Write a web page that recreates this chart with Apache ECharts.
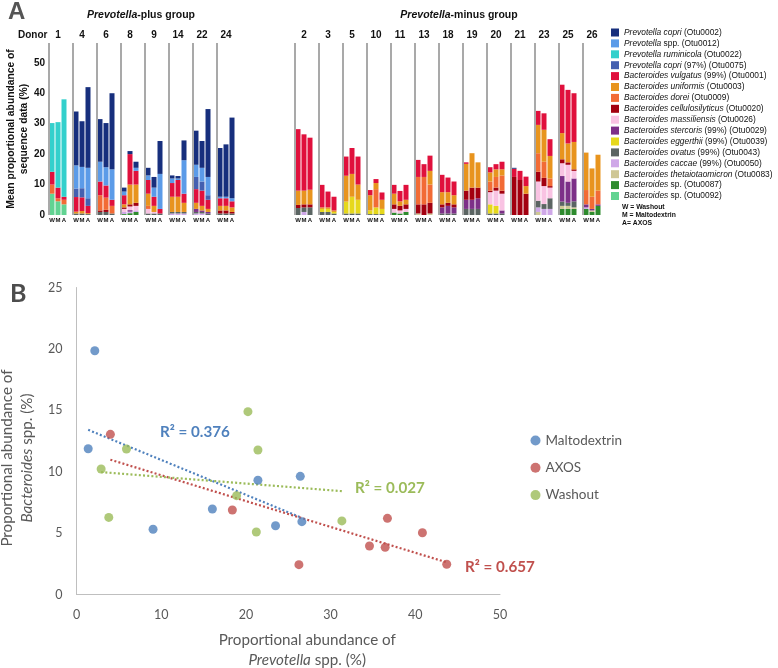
<!DOCTYPE html>
<html><head><meta charset="utf-8">
<script src="https://cdn.jsdelivr.net/npm/echarts@6/dist/echarts.min.js"></script>
<style>html,body{margin:0;padding:0;background:#fff}#c{width:778px;height:668px}</style>
</head><body><div id="c"></div>
<script>
// ---------- Panel A data ----------
const plusDonors  = ['1','4','6','8','9','14','22','24'];
const minusDonors = ['2','3','5','10','11','13','18','19','20','21','23','25','26'];
const conditions  = ['W','M','A'];

// legend order (top of stack first)
const speciesItalic = ['Prevotella copri','Prevotella','Prevotella ruminicola','Prevotella copri','Bacteroides vulgatus','Bacteroides uniformis','Bacteroides dorei','Bacteroides cellulosilyticus','Bacteroides massiliensis','Bacteroides stercoris','Bacteroides eggerthii','Bacteroides ovatus','Bacteroides caccae','Bacteroides thetaiotaomicron','Bacteroides','Bacteroides'];
const speciesRest   = ['(Otu0002)','spp. (Otu0012)','(Otu0022)','(97%) (Otu0075)','(99%) (Otu0001)','(Otu0003)','(Otu0009)','(Otu0020)','(Otu0026)','(99%) (Otu0029)','(99%) (Otu0039)','(99%) (Otu0043)','(99%) (Otu0050)','(Otu0083)','sp. (Otu0087)','sp. (Otu0092)'];

// values per bar: plus group (8 donors x W,M,A) then minus group (13 donors x W,M,A)
const otu0002 = [0,0,0, 17.7,15,26.5, 14,14.5,25, 1.3,1,2, 2.5,3.5,10.8, 1,0.8,6.5, 11.2,8.8,22.3, 16,17.2,26.5,
  0,0,0, 0,0,0, 0,0,0, 0,0,0, 0,0,0, 0,0,0, 0,0,0, 0,0,0, 0,0,0, 0.3,0,0, 0,0,0, 0,0,0, 0,0,0];
const otu0012 = [0,0,0, 7.6,7,10, 6.5,6,10, 1.2,0,1, 1.5,3,11.5, 1.5,0.5,11, 4,4.5,6, 0.5,0.5,1,
  0,0,0, 0,0,0, 0,0,0, 0,0,0, 0,0,0, 0,0,0, 0,0,0, 0,0,0, 0,0,0, 0,0,0, 0,0,0, 0,0,0, 0,0,0];
const otu0022 = [16,21.5,32, 0,0,0, 0,0,0, 0,0,0, 0,0,0, 0,0,0, 0,0,0, 0,0,0,
  0,0,0, 0,0,0, 0,0,0, 0,0,0, 0,0,0, 0,0,0, 0,0,0, 0,0,0, 0,0,0, 0,0,0, 0,0,0, 0,0,0, 0,0,0];
const otu0075 = [0,0,0, 2.8,3,2.5, 0,0,0, 0,0,0, 0,0,0, 0,0,0, 4,3,1.5, 0,0,0,
  0,0,0, 0,0,0, 0,0,0, 0,0,0, 0,0,0, 0,0,0, 0,0,0, 0,0,0, 0,0,0, 0,0,0, 0,0,0, 0,0,0, 0,0,0];
const otu0001 = [4.2,3.5,1, 4.8,4.5,2.4, 4.5,4,2, 3,10,4.5, 4.5,3,1.5, 4.5,5.5,3, 4.5,5,3, 2.5,2.5,2,
  20.2,18.5,17.1, 7.4,5.2,4.5, 6.3,8.5,9.2, 1.7,1.3,2.4, 2.9,3.4,4.9, 5.6,4.2,5, 5.7,4.8,4.5, 0.5,0,0, 1.7,1.7,2.5, 2.7,3,3.1, 4.6,5.4,5.5, 15.9,17.6,16, 0,0,0];
const otu0003 = [0,0,0, 0.6,0.8,0.3, 0,0,0, 1,6.5,6, 4,2,0, 5,5,3, 2,1.5,1, 1.5,1.5,1.5,
  4.7,4.5,4.8, 0.5,0.5,0.5, 8.5,7.5,5, 5,2,3, 3.5,1.5,1.5, 0,0,4.5, 4,3.5,3, 8.8,11.3,8.3, 3,2.5,2, 0,0,2.5, 9.3,10.5,7.4, 8.6,6.2,9, 12.3,9.3,11.8];
const otu0009 = [3,1,1.5, 0,0,0, 5,4,2.5, 0,0,0, 1,0,0, 0,0,0, 0,0,0, 0,0,0,
  0,0,0, 0,0,0, 0,0,0, 0,6,0, 0,0,0, 9,9,6, 0,0,0, 0,0,0, 3,3.5,5, 0,0,0, 6.1,5.3,2.5, 0,0,0, 4.7,4,4.5];
const otu0020 = [0,0,0, 0,0,0, 0.5,0.7,0, 0.5,0.7,1, 0,0,0, 0,0,0, 0,0,0, 1,1,0.5,
  1,1,1, 0,0,0, 0,0,0, 0,0,0, 1.5,1.5,1.5, 3,3.5,3.5, 1,1,1, 3,4,3.5, 0.5,1,1, 12.5,11.5,7, 3.2,2.7,0.5, 1.3,0.8,0.5, 0,0,0];
const otu0026 = [0,0,0, 0,0,0, 0,0,0, 1,1.2,1.5, 1.5,0.5,0, 0,0,0, 0,0,0, 0,0,0,
  0,0,0, 0,0,0, 0,0,0, 0,0,0, 1.2,1,1, 0,0,0, 0,0,0, 0,0,0, 4,5,5.5, 0,0,0, 6.3,5.9,3.5, 4.2,5.5,2.5, 0,0,0];
const otu0029 = [0,0,0, 0,0,0, 0,0,0, 0,0.5,0, 0,0,0, 0,0,0, 1,0.5,0.5, 0,0,0,
  0,0,0, 0,0,0, 0,0,0, 0,0,0, 0,0,0, 0,0,0, 2,2.5,2, 3,3,3.5, 0,0,1, 0,0,0, 0,0,0, 8.4,7,7.5, 1,0.5,0.5];
const otu0039 = [0,0,0, 0,0,0, 0,0,0, 0,0,0, 0,0,0, 0,0,0, 0,0,0, 0,0,0,
  0,0,0, 1,1,0.5, 3.9,5.5,4.5, 1.2,2.2,1.7, 0,0,0, 0,0,0, 0,0,0, 0,0,0, 3,2.5,0, 0,0,0, 0,0,0, 0,0,0, 0,0,0];
const otu0043 = [0,0,0, 0.5,0.5,0.3, 1,1,0.5, 0,0,0, 0.5,0.5,0.5, 0.5,0.5,0.5, 0.5,0.5,0.5, 0.5,0.5,0.5,
  2.3,1.5,2.5, 1,1,0.5, 0.5,0.5,0.5, 0.3,0.3,0.3, 0,0,0, 0,0,0, 0.5,0.5,0.5, 2,2,2, 0.5,0.5,0.5, 0,0,0, 2.2,1.6,3.5, 1.4,1,2, 0,0,0];
const otu0050 = [0,0,0, 0,0,0, 0,0,0, 0.7,0.5,0.5, 0,0,0, 0.5,0.5,0.5, 0.5,0.5,0, 0,0,0,
  0,1,0, 0,0,0, 0,0,0, 0,0,0, 0,0,0, 0,0,0, 0,0,0, 0,0,0, 0,0,0, 0,0,0, 1.5,2,2, 0,0,0, 0.5,0,0];
const otu0083 = [0,0,0, 0,0,0, 0,0,0, 0,0,0, 0,0,0, 0,0,0, 0,0,0, 0,0,0,
  0,0,0, 0,0,0, 0,0,0, 0,0,0, 0,0,0, 0.5,0,0.5, 0,0,0, 0,0,0, 0,0,0, 0,0,0, 1,0,0, 1,1,0.5, 0,0.5,0];
const otu0087 = [0,0,0, 0,0,0, 0,0,0, 0.3,0.6,1, 0,0,0, 0,0,0, 0,0,0, 0,0,0,
  0,0,0, 0,0,0, 0,0,0, 0,0,0, 0.8,0.5,1, 0,0,0, 0,0,0, 0,0,0, 0,0,0, 0,0,0, 0,0,0, 2,2,2, 2,1,3];
const otu0092 = [7,4.5,3.5, 0,0,0, 0,0,0, 0,0,0, 0,0,0, 0,0,0, 0,0,0, 0,0,0,
  0,0,0, 0,0,0, 0,0,0, 0,0,0, 0,0,0, 0,0,0, 0,0,0, 0,0,0, 0,0,0, 0,0,0, 0,0,0, 0,0,0, 0,0,0];

// ---------- Panel B data ----------
const maltoX = [2.16,1.38,9.04,16.04,21.42,23.5,26.42,26.61];
const maltoY = [19.85,11.87,5.31,6.96,9.30,5.6,9.62,5.93];
const axosX  = [4.0,18.4,26.26,34.59,36.44,36.71,40.84,43.71];
const axosY  = [13.04,6.88,2.43,3.95,3.84,6.2,5.03,2.46];
const washX  = [20.24,21.42,5.9,2.91,3.81,18.9,21.23,31.33];
const washY  = [14.89,11.77,11.85,10.22,6.28,8.05,5.09,5.99];
const groupNames = ['Maltodextrin','AXOS','Washout'];
const r2Labels = ['R² = 0.376','R² = 0.657','R² = 0.027'];

// ---------- styles ----------
const speciesColors = ['#172f7d','#5b9be8','#33d0cc','#4460b0','#e0103c','#e8941e','#f26b35','#a30010','#f9c3e3','#7d3088','#e6d81c','#5b6563','#cfa8e8','#cfc795','#2e8b2e','#62d392'];
const groupColors = ['#4f81bd','#c0504d','#9bbb59'];
const AF = '"Liberation Sans", Arial, sans-serif';
const BF = 'Lato, "Open Sans", sans-serif';

const speciesData = [otu0002,otu0012,otu0022,otu0075,otu0001,otu0003,otu0009,otu0020,otu0026,otu0029,otu0039,otu0043,otu0050,otu0083,otu0087,otu0092];
const speciesNames = speciesItalic.map((s,i)=> s + ' ' + speciesRest[i]);
// each donor occupies 8 narrow category slots: separator, W, -, M, -, A, -, -
const SLOT_KIND = ['sep','W','','M','','A','',''];
const BAR_SLOT = {1:0, 3:1, 5:2};

function cats(donors){ return donors.flatMap(d => SLOT_KIND.map((k,i)=> d+'|'+k+'|'+i)); }
function expand(vals, start, n){
  const out=[];
  for(let d=0; d<n; d++) for(let i=0;i<SLOT_KIND.length;i++){
    out.push(i in BAR_SLOT ? vals[start+d*3+BAR_SLOT[i]] : '-');
  }
  return out;
}
function fit(xs, ys){
  const n=xs.length, mx=xs.reduce((a,b)=>a+b,0)/n, my=ys.reduce((a,b)=>a+b,0)/n;
  let sxy=0,sxx=0; for(let i=0;i<n;i++){sxy+=(xs[i]-mx)*(ys[i]-my); sxx+=(xs[i]-mx)**2;}
  const b=sxy/sxx, a=my-b*mx, x0=Math.min(...xs), x1=Math.max(...xs);
  return [[x0,a+b*x0],[x1,a+b*x1]];
}

const groups = [{donors:plusDonors,start:0},{donors:minusDonors,start:plusDonors.length*3}];
const series=[];
groups.forEach((g,gi)=>{
  for(let s=speciesNames.length-1;s>=0;s--){
    const ser={type:'bar',name:speciesNames[s],xAxisIndex:gi*2,yAxisIndex:gi,stack:'g'+gi,barWidth:5,
      itemStyle:{color:speciesColors[s]},emphasis:{disabled:true},
      data:expand(speciesData[s],g.start,g.donors.length)};
    if(s===speciesNames.length-1){
      ser.markLine={silent:true,symbol:'none',animation:false,label:{show:false},
        lineStyle:{color:'#a9a9a9',width:2,type:'solid'},emphasis:{disabled:true},
        data:g.donors.map(d=>({xAxis:d+'|sep|0'}))};
    }
    series.push(ser);
  }
});
const scat=[[maltoX,maltoY],[axosX,axosY],[washX,washY]];
scat.forEach((p,i)=>{
  series.push({type:'scatter',name:groupNames[i],xAxisIndex:4,yAxisIndex:2,symbolSize:9,
    itemStyle:{color:groupColors[i]},data:p[0].map((x,j)=>[x,p[1][j]]),z:3});
});
scat.forEach((p,i)=>{
  series.push({type:'line',name:groupNames[i]+' trend',xAxisIndex:4,yAxisIndex:2,showSymbol:false,silent:true,
    lineStyle:{color:groupColors[i],width:2.2,type:[2,2.2]},data:fit(p[0],p[1]),z:2});
});

function donorAxes(donors, gi){
  const data=cats(donors);
  return [
    {type:'category',gridIndex:gi,data:data,position:'bottom',axisLine:{show:false},axisTick:{show:false},splitLine:{show:false},
     axisLabel:{interval:0,margin:2,fontSize:6,fontWeight:'bold',fontFamily:AF,color:'#111',
       formatter:(v)=>{const k=v.split('|')[1]; return conditions.includes(k)?k:'';}}},
    {type:'category',gridIndex:gi,data:data,position:'top',axisLine:{show:false},axisTick:{show:false},splitLine:{show:false},
     axisLabel:{interval:0,margin:3,fontSize:10,fontWeight:'bold',fontFamily:AF,color:'#111',
       formatter:(v)=>{const p=v.split('|'); return p[1]==='M'?p[0]:'';}}}
  ];
}

const option={
  animation:false,
  grid:[
    {left:47.5,top:43,width:192,height:172,outerBoundsMode:'none',containLabel:false},
    {left:293.5,top:43,width:312,height:172,outerBoundsMode:'none',containLabel:false},
    {left:76.5,top:287.5,width:423.5,height:307,outerBoundsMode:'none',containLabel:false}
  ],
  xAxis:[...donorAxes(plusDonors,0),...donorAxes(minusDonors,1),
    {type:'value',gridIndex:2,min:0,max:50,interval:10,axisLine:{show:true,lineStyle:{color:'#bfbfbf',width:1}},axisTick:{show:false},splitLine:{show:false},
     axisLabel:{fontSize:12.5,fontFamily:BF,color:'#595959',margin:14},
     name:'Proportional abundance of\n{i|Prevotella} spp. (%)',nameLocation:'middle',nameGap:36,
     nameTextStyle:{fontSize:15.2,fontFamily:BF,color:'#595959',lineHeight:20,padding:[0,0,0,38],
       rich:{i:{fontStyle:'italic',fontSize:15.2,fontFamily:BF,color:'#595959',lineHeight:20}}}}
  ],
  yAxis:[
    {type:'value',gridIndex:0,min:0,max:56.5,interval:10,axisLine:{show:false},axisTick:{show:false},splitLine:{show:false},
     axisLabel:{showMaxLabel:false,fontSize:10,fontWeight:'bold',fontFamily:AF,color:'#111',margin:2.5},
     name:'Mean proportional abundance of\nsequence data (%)',nameLocation:'middle',nameGap:17.5,nameRotate:90,
     nameTextStyle:{fontSize:10.3,fontWeight:'bold',fontFamily:AF,color:'#111',lineHeight:12.5}},
    {type:'value',gridIndex:1,min:0,max:56.5,interval:10,show:false},
    {type:'value',gridIndex:2,min:0,max:25,interval:5,axisLine:{show:true,lineStyle:{color:'#bfbfbf',width:1}},axisTick:{show:false},splitLine:{show:false},
     axisLabel:{fontSize:12.5,fontFamily:BF,color:'#595959',margin:14},
     name:'Proportional abundance of\n{i|Bacteroides} spp. (%)',nameLocation:'middle',nameGap:39,nameRotate:90,
     nameTextStyle:{fontSize:15.2,fontFamily:BF,color:'#595959',lineHeight:20,padding:[0,34,0,0],
       rich:{i:{fontStyle:'italic',fontSize:15.2,fontFamily:BF,color:'#595959',lineHeight:20}}}}
  ],
  legend:[
    {data:speciesNames,orient:'vertical',left:611,top:27.5,padding:0,itemWidth:8,itemHeight:8,itemGap:0.9,icon:'rect',selectedMode:false,
     formatter:(name)=>{const i=speciesNames.indexOf(name);return '{i|'+speciesItalic[i]+'} '+speciesRest[i];},
     textStyle:{fontSize:8.4,fontFamily:AF,color:'#111',lineHeight:10,
       rich:{i:{fontStyle:'italic',fontSize:8.4,fontFamily:AF,color:'#111',lineHeight:10}}}},
    {data:groupNames,orient:'vertical',left:530.5,top:432,padding:0,itemWidth:10,itemHeight:10,itemGap:10.3,icon:'circle',selectedMode:false,
     textStyle:{fontSize:13.5,fontFamily:BF,color:'#595959',lineHeight:17}}
  ],
  graphic:[
    {type:'text',x:8,y:12,style:{text:'A',font:'bold 24px '+AF,fill:'#555',verticalAlign:'middle'}},
    {type:'text',x:141,y:15,style:{text:'{i|Prevotella}-plus group',font:'bold 10.5px '+AF,fill:'#111',align:'center',verticalAlign:'middle',
      rich:{i:{fontStyle:'italic',fontWeight:'bold',fontSize:10.5,fontFamily:AF,fill:'#111'}}}},
    {type:'text',x:459,y:15,style:{text:'{i|Prevotella}-minus group',font:'bold 10.5px '+AF,fill:'#111',align:'center',verticalAlign:'middle',
      rich:{i:{fontStyle:'italic',fontWeight:'bold',fontSize:10.5,fontFamily:AF,fill:'#111'}}}},
    {type:'text',x:18,y:35,style:{text:'Donor',font:'bold 10px '+AF,fill:'#111',verticalAlign:'middle'}},
    {type:'text',x:622,y:207,style:{text:'W = Washout',font:'bold 6.8px '+AF,fill:'#111',verticalAlign:'middle'}},
    {type:'text',x:622,y:215,style:{text:'M = Maltodextrin',font:'bold 6.8px '+AF,fill:'#111',verticalAlign:'middle'}},
    {type:'text',x:622,y:223,style:{text:'A= AXOS',font:'bold 6.8px '+AF,fill:'#111',verticalAlign:'middle'}},
    {type:'text',x:10,y:294,style:{text:'B',font:'bold 25px '+BF,fill:'#4d4d4d',verticalAlign:'middle'}},
    {type:'text',x:160,y:432,style:{text:r2Labels[0],font:'bold 15.2px '+BF,fill:groupColors[0],verticalAlign:'middle'}},
    {type:'text',x:465,y:567,style:{text:r2Labels[1],font:'bold 15.2px '+BF,fill:groupColors[1],verticalAlign:'middle'}},
    {type:'text',x:355,y:488,style:{text:r2Labels[2],font:'bold 15.2px '+BF,fill:groupColors[2],verticalAlign:'middle'}}
  ],
  series:series
};
const chart=echarts.init(document.getElementById('c'),null,{renderer:'canvas'});
chart.setOption(option);
</script></body></html>
